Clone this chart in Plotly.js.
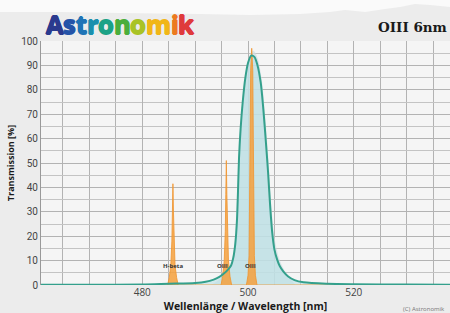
<!DOCTYPE html>
<html><head><meta charset="utf-8">
<script src="https://cdn.plot.ly/plotly-3.0.1.min.js"></script>
<style>html,body{margin:0;padding:0;background:#ececec;}#chart{width:450px;height:313px;}</style>
</head><body><div id="chart"></div>
<script>
// Filter transmission curve (OIII 6nm)
const filterNm = [460.85, 470, 480, 485, 490, 492, 493.5, 494.5, 495.5, 496.2, 496.8, 497.2, 497.6, 497.9, 498.1, 498.3, 498.6, 499.0, 499.5, 500.0, 500.6, 501.2, 501.8, 502.4, 502.9, 503.4, 503.8, 504.2, 504.6, 505.0, 505.5, 506.0, 506.7, 507.6, 508.8, 510.5, 515, 520, 530, 538.2];
const filterT  = [0.1, 0.1, 0.2, 0.5, 0.8, 1.3, 2.2, 3.2, 4.8, 6.3, 8.0, 11, 17, 26, 38, 52, 64, 75, 85, 91, 94, 93.5, 90, 83, 72, 58, 46, 32, 21, 14.5, 10.5, 7.8, 5.5, 3.5, 2.0, 1.1, 0.5, 0.3, 0.2, 0.1];
// Faint wider envelope behind the curve
const shadeNm = [493, 495, 496.5, 497.3, 497.8, 498.2, 498.8, 499.5, 500.3, 501.0, 501.8, 502.6, 503.3, 503.9, 504.5, 505.2, 506.2, 507.5, 509];
const shadeT  = [0, 3, 7, 14, 30, 50, 72, 86, 94, 96, 93, 84, 68, 50, 30, 17, 9, 4, 0];
// Emission lines (H-beta, OIII 495.9, OIII 500.7) on a zero baseline
const emissionNm = [460.85, 484.8, 485.1, 485.4, 485.6, 485.7, 485.8, 485.9, 486.0, 486.2, 486.5, 486.8, 494.9, 495.2, 495.5, 495.7, 495.8, 495.9, 496.0, 496.1, 496.3, 496.6, 496.9, 499.7, 500.0, 500.2, 500.3, 500.4, 500.5, 500.7, 500.9, 501.0, 501.1, 501.2, 501.4, 501.7, 538.2];
const emissionT  = [0, 0, 3, 8, 18, 30, 41.5, 30, 18, 8, 3, 0, 0, 3.5, 10, 22, 37, 51, 37, 22, 10, 3.5, 0, 0, 4, 12, 30, 60, 88, 97, 88, 60, 30, 12, 4, 0, 0];
const lineLabels = ['H-beta', 'OIII', 'OIII'];
const lineLabelNm = [485.9, 495.2, 500.5];
const lineLabelT = [7.6, 7.6, 7.6];
const xTickVals = [480, 500, 520];
const xTickText = ['480', '500', '520'];
const yTickVals = [0, 10, 20, 30, 40, 50, 60, 70, 80, 90, 100];
const yTickText = ['0', '10', '20', '30', '40', '50', '60', '70', '80', '90', '100'];

const W = 450, H = 313, L = 41, R = 0, T = 41, B = 28;
const pw = W - L - R, ph = H - T - B;
const px = x => (x - L) / pw;
const py = y => (H - B - y) / ph;

const teal = '#34a08c';
const traces = [
  {x: shadeNm, y: shadeT, type: 'scatter', mode: 'lines', line: {width: 0, shape: 'spline'}, fill: 'tozeroy', fillcolor: 'rgba(205,222,226,0.7)', hoverinfo: 'skip'},
  {x: filterNm, y: filterT, type: 'scatter', mode: 'lines', line: {width: 0, shape: 'spline', smoothing: 0.8}, fill: 'tozeroy', fillcolor: 'rgba(185,225,230,0.6)', hoverinfo: 'skip'},
  {x: emissionNm, y: emissionT, type: 'scatter', mode: 'lines', line: {width: 1, color: 'rgba(240,150,50,0.85)'}, fill: 'tozeroy', fillcolor: 'rgba(245,160,60,0.85)', hoverinfo: 'skip'},
  {x: filterNm, y: filterT, type: 'scatter', mode: 'lines', line: {width: 2, color: teal, shape: 'spline', smoothing: 0.8}, hoverinfo: 'skip'}
];

const logoLetters = ['A','s','t','r','o','n','o','m','i','k'];
const logoColors = ['#2a3a8e','#2453a8','#1e74b6','#1a90ad','#1ca286','#4bae3c','#a9c325','#f1b617','#ec7a1f','#df3a3c'];

const annotations = lineLabels.map((t, i) => ({
  x: lineLabelNm[i], y: lineLabelT[i], xref: 'x', yref: 'y', text: '<b>' + t + '</b>', showarrow: false,
  font: {family: 'Open Sans, sans-serif', size: 6, color: '#333'}
}));

// Logo: one annotation per coloured letter, placed by measured advance widths
const logoFamily = 'Open Sans';
const logoSize = 25.5;
const ctx = document.createElement('canvas').getContext('2d');
ctx.font = 'bold ' + logoSize + 'px "' + logoFamily + '"';
let cx = 45;
logoLetters.forEach((c, i) => {
  const col = logoColors[i];
  const s = '0.8px';
  annotations.push({x: px(cx), y: py(23.5), xref: 'paper', yref: 'paper', xanchor: 'left', yanchor: 'middle',
    text: c, showarrow: false, borderpad: 0,
    font: {family: logoFamily + ', sans-serif', size: logoSize, color: col, weight: 'bold',
      shadow: s + ' 0 0 ' + col + ', -' + s + ' 0 0 ' + col + ', 0 ' + s + ' 0 ' + col + ', 0 -' + s + ' 0 ' + col}});
  cx += ctx.measureText(c).width - 0.2;
});

annotations.push(
  {x: px(449), y: py(27), xref: 'paper', yref: 'paper', xanchor: 'right', yanchor: 'middle', text: '<b>OIII 6nm</b>', showarrow: false,
   font: {family: 'DejaVu Serif, serif', size: 13.5, color: '#1a1a1a'}},
  {x: px(447), y: py(309), xref: 'paper', yref: 'paper', xanchor: 'right', yanchor: 'middle', text: '(C) Astronomik', showarrow: false,
   font: {family: 'Open Sans, sans-serif', size: 6, color: '#777'}}
);

const hillPath = (() => {
  const pts = [[0,0],[450,0],[450,7],[430,5],[415,4],[400,7],[385,9],[365,12],[345,10],[330,12],[300,14],[250,15],[200,14],[120,13],[60,12],[0,12]];
  return 'M ' + pts.map(p => px(p[0]).toFixed(4) + ',' + py(p[1]).toFixed(4)).join(' L ') + ' Z';
})();

const layout = {
  width: W, height: H,
  margin: {l: L, r: R, t: T, b: B, pad: 0},
  paper_bgcolor: '#ececec',
  plot_bgcolor: '#f5f5f5',
  showlegend: false,
  shapes: [
    {type: 'path', xref: 'paper', yref: 'paper', path: hillPath, fillcolor: '#fafafa', line: {width: 0}, layer: 'below'}
  ],
  xaxis: {
    range: [460.85, 538.2], tickmode: 'array', tickvals: xTickVals, ticktext: xTickText,
    showgrid: true, gridcolor: '#b3b3b3', gridwidth: 1,
    minor: {tick0: 460, dtick: 5, showgrid: true, gridcolor: '#b3b3b3', gridwidth: 1, ticks: ''},
    zeroline: false, showline: false, ticks: '',
    tickfont: {family: 'Open Sans, sans-serif', size: 10, color: '#444'},
    title: {text: '<b>Wellenlänge / Wavelength [nm]</b>', font: {family: 'Open Sans, sans-serif', size: 10.5, color: '#1a1a1a'}, standoff: 2},
    fixedrange: true
  },
  yaxis: {
    range: [0, 100], tickmode: 'array', tickvals: yTickVals, ticktext: yTickText,
    showgrid: true, gridcolor: '#b3b3b3', gridwidth: 1,
    minor: {dtick: 5, showgrid: true, gridcolor: '#c4c4c4', gridwidth: 1, ticks: ''},
    zeroline: false, showline: true, linecolor: '#999', linewidth: 1, ticks: '',
    tickfont: {family: 'Roboto, sans-serif', size: 10, color: '#444'},
    title: {text: '<b>Transmission [%]</b>', font: {family: 'Open Sans, sans-serif', size: 9, color: '#1a1a1a'}, standoff: 4},
    fixedrange: true
  },
  annotations: annotations
};

Plotly.newPlot('chart', traces, layout, {displayModeBar: false, staticPlot: true});
</script>
</body></html>
